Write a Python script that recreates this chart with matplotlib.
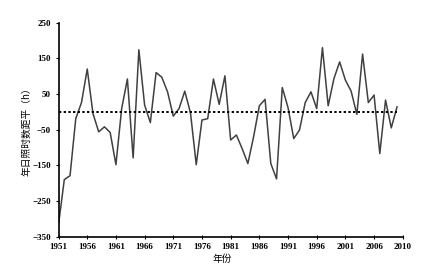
import matplotlib.pyplot as plt

plt.rcParams['font.family'] = ['Liberation Serif', 'Noto Sans CJK SC', 'DejaVu Sans']

# 年份与年日照时数距平 (h)
years = list(range(1951, 2011))
anomaly = [-315, -190, -179, -19, 26, 120, -5, -56, -42, -58,
           -148, 9, 92, -129, 174, 19, -30, 110, 97, 56,
           -12, 9, 58, -3, -148, -23, -19, 92, 21, 101,
           -79, -65, -103, -145, -70, 17, 35, -145, -188, 68,
           12, -75, -51, 26, 56, 9, 180, 17, 93, 140,
           89, 58, -7, 162, 26, 47, -117, 33, -45, 14]
xtick_pos = list(range(1951, 2012, 5))
xtick_lab = [str(i) for i in xtick_pos[:-1]] + ["2010"]
ytick_pos = [-350, -250, -150, -50, 50, 150, 250]

fig = plt.figure(figsize=(4.47, 2.73), dpi=100)
ax = fig.add_axes([0.131, 0.133, 0.77, 0.784])
ax.plot(years, anomaly, color="#404040", linewidth=1.1)
ax.hlines(0, years[0], years[-1], colors="black", linestyles=(0, (1.2, 1.2)), linewidth=1.4)

ax.set_xlim(1951, 2011)
ax.set_ylim(-350, 250)
ax.set_xticks(xtick_pos)
ax.set_xticklabels(xtick_lab)
ax.set_yticks(ytick_pos)
for s in ["top", "right"]:
    ax.spines[s].set_visible(False)
ax.spines["left"].set_linewidth(1.2)
ax.spines["bottom"].set_linewidth(1.2)
ax.tick_params(axis="x", direction="inout", length=3, labelsize=6.5, pad=3)
ax.tick_params(axis="y", direction="out", length=2.5, labelsize=6.5, pad=3)
for t in ax.get_xticklabels() + ax.get_yticklabels():
    t.set_fontweight("bold")

ax.set_xlabel("年份", fontsize=7, family=['Noto Sans CJK SC', 'DejaVu Sans'], labelpad=3)
ax.xaxis.set_label_coords(0.475, -0.08)
ax.set_ylabel("年日照时数距平（h）", fontsize=7, family=['Noto Sans CJK SC', 'DejaVu Sans'], labelpad=0.5)

fig.savefig("out.png", dpi=100, facecolor="white")
